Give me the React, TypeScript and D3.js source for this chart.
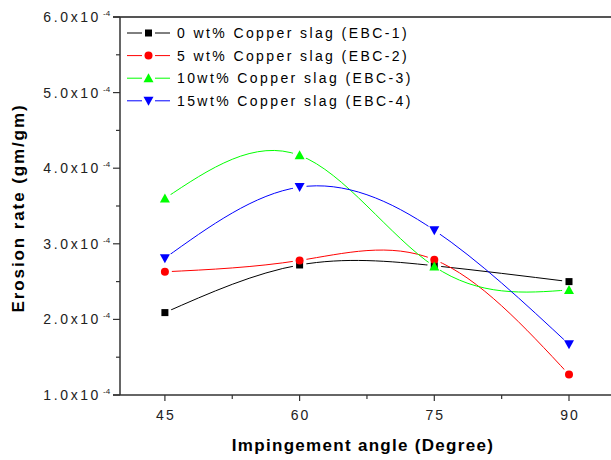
import React from "react";
import * as d3 from "d3";

const angles = [45, 60, 75, 90];
const xTicks = [45, 60, 75, 90];
const xMinorTicks = [52.5, 67.5, 82.5];
const yTicks = [1, 2, 3, 4, 5, 6];
const yMinorTicks = [1.5, 2.5, 3.5, 4.5, 5.5];

// erosion rate, units of 1e-4 gm/gm
const ebc1 = [2.09, 2.72, 2.71, 2.5];
const ebc2 = [2.63, 2.78, 2.79, 1.27];
const ebc3 = [3.6, 4.17, 2.7, 2.39];
const ebc4 = [2.81, 3.75, 3.18, 1.67];

const seriesNames = [
  "0 wt% Copper slag (EBC-1)",
  "5 wt% Copper slag (EBC-2)",
  "10wt% Copper slag (EBC-3)",
  "15wt% Copper slag (EBC-4)",
];
const seriesColors = ["#000000", "#ff0000", "#00ff00", "#0000ff"];
const seriesShapes = ["square", "circle", "triangle", "invTriangle"];
const seriesValues = [ebc1, ebc2, ebc3, ebc4];

const W = 611;
const H = 460;

function Marker({ shape, x, y, color }: { shape: string; x: number; y: number; color: string }) {
  if (shape === "square") {
    return <rect x={x - 3.5} y={y - 3.5} width={7} height={7} fill={color} />;
  }
  if (shape === "circle") {
    return <circle cx={x} cy={y} r={4} fill={color} />;
  }
  if (shape === "triangle") {
    return <path d={`M${x},${y - 5} L${x + 5},${y + 4} L${x - 5},${y + 4} Z`} fill={color} />;
  }
  return <path d={`M${x},${y + 5} L${x + 5},${y - 4} L${x - 5},${y - 4} Z`} fill={color} />;
}

export default function App() {
  const x = d3.scaleLinear().domain([40, 100]).range([120, 658.8]);
  const y = d3.scaleLinear().domain([1, 6]).range([395, 17]);

  const line = d3
    .line<number>()
    .x((_, i) => x(angles[i]))
    .y((d) => y(d))
    .curve(d3.curveNatural);

  const axisColor = "#333";
  const tickFont = "'Liberation Sans', Arial, sans-serif";

  return (
    <svg width={W} height={H} style={{ position: "absolute", left: 0, top: 0, background: "#fff" }}>
      <defs>
        {seriesValues.map((vals, s) => (
          <mask id={`gap-${s}`} key={s} maskUnits="userSpaceOnUse" x={0} y={0} width={W} height={H}>
            <rect x={0} y={0} width={W} height={H} fill="#fff" />
            {vals.map((v, i) => (
              <circle key={i} cx={x(angles[i])} cy={y(v)} r={7} fill="#000" />
            ))}
          </mask>
        ))}
      </defs>

      {/* frame */}
      <line x1={113} x2={W} y1={y(6)} y2={y(6)} stroke="#555" strokeWidth={2} />
      <line x1={113} x2={W} y1={y(1)} y2={y(1)} stroke={axisColor} strokeWidth={1.5} />
      <line x1={x(40)} x2={x(40)} y1={y(6)} y2={y(1)} stroke={axisColor} strokeWidth={1.5} />

      {/* y ticks */}
      {yTicks.map((t) => (
        <g key={t}>
          <line x1={113} x2={x(40)} y1={y(t)} y2={y(t)} stroke={axisColor} strokeWidth={1.2} />
          <text
            x={101}
            y={y(t) + 5}
            textAnchor="end"
            fontFamily={tickFont}
            fontSize={14}
            letterSpacing={2.6}
            fill="#222"
          >
            {t.toFixed(1)}x10
          </text>
          <text x={103} y={y(t) - 1} fontFamily={tickFont} fontSize={8} fill="#222">
            -4
          </text>
        </g>
      ))}
      {yMinorTicks.map((t) => (
        <line key={t} x1={116} x2={x(40)} y1={y(t)} y2={y(t)} stroke={axisColor} strokeWidth={1.2} />
      ))}

      {/* x ticks */}
      {xTicks.map((t) => (
        <g key={t}>
          <line x1={x(t)} x2={x(t)} y1={y(1)} y2={y(1) + 6} stroke={axisColor} strokeWidth={1.2} />
          <text
            x={x(t) + 1}
            y={y(1) + 25}
            textAnchor="middle"
            fontFamily={tickFont}
            fontSize={14}
            letterSpacing={2}
            fill="#222"
          >
            {t}
          </text>
        </g>
      ))}
      {xMinorTicks.map((t) => (
        <line key={t} x1={x(t)} x2={x(t)} y1={y(1)} y2={y(1) + 4} stroke={axisColor} strokeWidth={1.2} />
      ))}

      {/* axis titles */}
      <text
        x={363}
        y={451}
        textAnchor="middle"
        fontFamily={tickFont}
        fontWeight="bold"
        fontSize={17}
        letterSpacing={1.3}
        fill="#000"
      >
        Impingement angle (Degree)
      </text>
      <text
        transform={`translate(24, 208) rotate(-90)`}
        textAnchor="middle"
        fontFamily={tickFont}
        fontWeight="bold"
        fontSize={17}
        letterSpacing={1.9}
        fill="#000"
      >
        Erosion rate (gm/gm)
      </text>

      {/* series */}
      {seriesValues.map((vals, s) => (
        <g key={s}>
          <path
            d={line(vals) || ""}
            fill="none"
            stroke={seriesColors[s]}
            strokeWidth={1}
            mask={`url(#gap-${s})`}
          />
          {vals.map((v, i) => (
            <Marker key={i} shape={seriesShapes[s]} x={x(angles[i])} y={y(v)} color={seriesColors[s]} />
          ))}
        </g>
      ))}

      {/* legend */}
      {seriesNames.map((name, s) => {
        const ly = 33 + s * 22.6;
        return (
          <g key={name}>
            <line x1={127} x2={142} y1={ly} y2={ly} stroke={seriesColors[s]} strokeWidth={1} />
            <line x1={155} x2={170} y1={ly} y2={ly} stroke={seriesColors[s]} strokeWidth={1} />
            <Marker shape={seriesShapes[s]} x={148.5} y={ly} color={seriesColors[s]} />
            <text
              x={177}
              y={ly + 5}
              fontFamily={tickFont}
              fontSize={14}
              letterSpacing={2.4}
              fill="#000"
            >
              {name}
            </text>
          </g>
        );
      })}
    </svg>
  );
}
